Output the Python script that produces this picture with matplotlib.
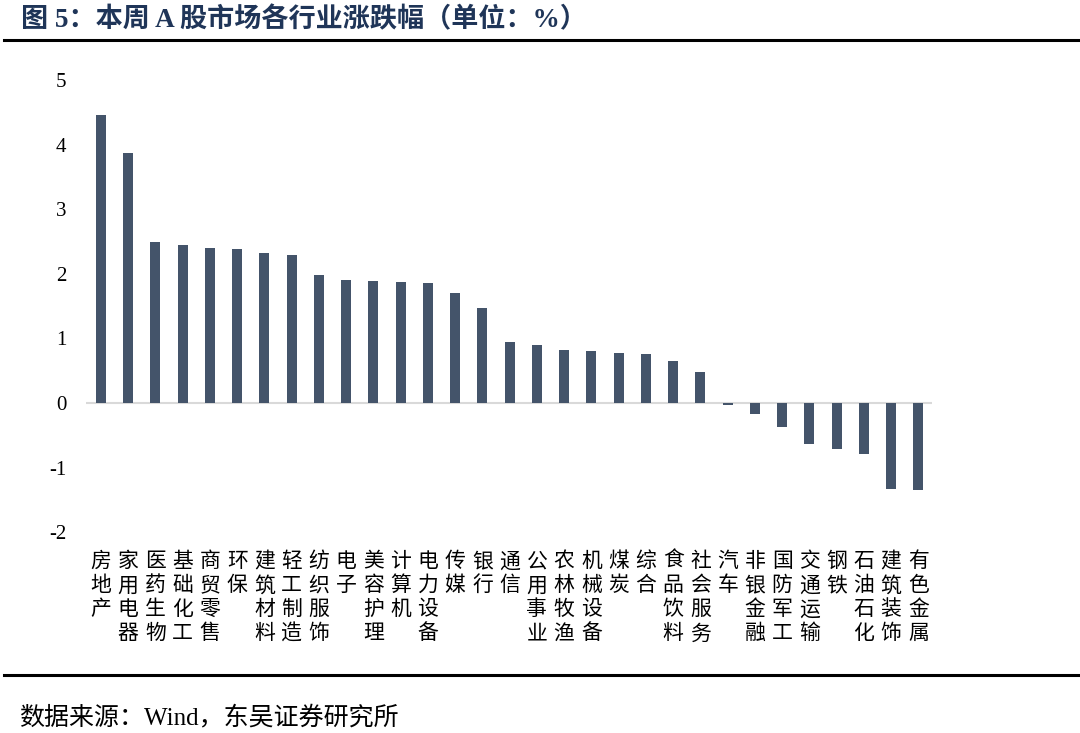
import numpy as np
import matplotlib.pyplot as plt
from matplotlib.lines import Line2D

plt.rcParams['font.family'] = ['Noto Sans CJK SC', 'DejaVu Sans']

# =========================
# Data
# =========================

industries = [
    "房地产", "家用电器", "医药生物", "基础化工", "商贸零售", "环保",
    "建筑材料", "轻工制造", "纺织服饰", "电子", "美容护理", "计算机",
    "电力设备", "传媒", "银行", "通信", "公用事业", "农林牧渔",
    "机械设备", "煤炭", "综合", "食品饮料", "社会服务", "汽车",
    "非银金融", "国防军工", "交通运输", "钢铁", "石油石化", "建筑装饰",
    "有色金属",
]

change_pct = [
    4.46, 3.87, 2.49, 2.45, 2.40, 2.38,
    2.32, 2.29, 1.98, 1.90, 1.89, 1.87,
    1.86, 1.70, 1.47, 0.94, 0.90, 0.82,
    0.80, 0.77, 0.76, 0.65, 0.48, -0.03,
    -0.17, -0.38, -0.63, -0.71, -0.79, -1.33,
    -1.35,
]

y_ticks = [-2, -1, 0, 1, 2, 3, 4, 5]

serif_cjk = ['Liberation Serif', 'Noto Sans CJK SC']

# =========================
# Figure
# =========================

fig = plt.figure(figsize=(10.8, 7.33), dpi=100)

ax = fig.add_axes([0.0796, 0.274, 0.7834, 0.617])

x = np.arange(len(industries))

ax.bar(x, change_pct, width=0.37, color="#44546a", zorder=3)

ax.axhline(0, color="#d9d9d9", linewidth=1.5, zorder=2)

ax.set_xlim(-0.55, len(industries) - 0.5)
ax.set_ylim(-2, 5)

ax.set_yticks(y_ticks)
ax.set_yticklabels(
    [str(t) for t in y_ticks],
    family="Liberation Serif",
    fontsize=15,
)

ax.set_xticks(x)
ax.set_xticklabels(
    ["\n".join(name) for name in industries],
    fontsize=15,
    linespacing=1.12,
    va="top",
)

ax.tick_params(axis="both", length=0)
ax.tick_params(axis="y", pad=14)
ax.tick_params(axis="x", pad=13)

for spine in ax.spines.values():
    spine.set_visible(False)

# =========================
# Title, rules, source
# =========================

fig.text(
    0.019, 0.973,
    "图 5：本周 A 股市场各行业涨跌幅（单位：%）",
    family=serif_cjk,
    fontsize=19.5, fontweight="bold", color="#1f3558",
    va="center", ha="left",
)

fig.add_artist(Line2D([0.004, 1.0], [0.9454, 0.9454],
                      color="black", linewidth=2.2))
fig.add_artist(Line2D([0.004, 1.0], [0.079, 0.079],
                      color="black", linewidth=2.2))

fig.text(
    0.018, 0.021,
    "数据来源：Wind，东吴证券研究所",
    family=serif_cjk,
    fontsize=18, color="black",
    va="center", ha="left",
)

fig.savefig("out.png", dpi=100)
